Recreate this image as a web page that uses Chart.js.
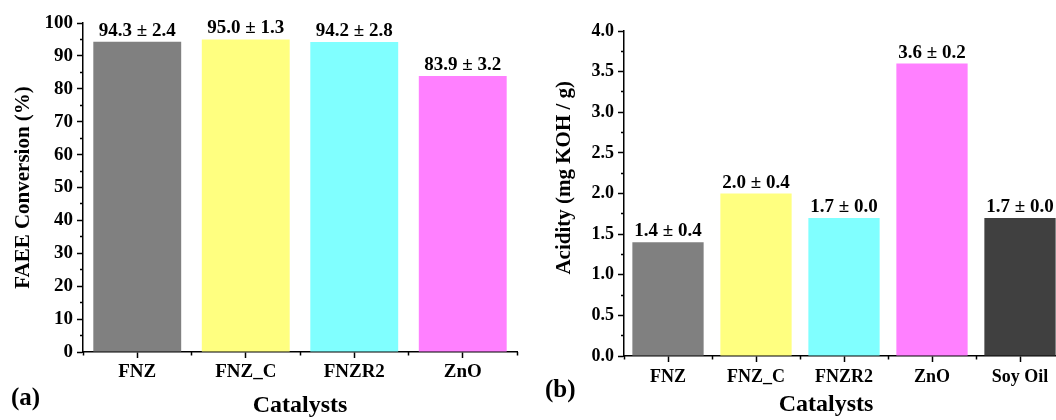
<!DOCTYPE html>
<html>
<head>
<meta charset="utf-8">
<script src="https://cdn.jsdelivr.net/npm/chart.js@4.4.1/dist/chart.umd.min.js"></script>
<style>
  html, body { margin: 0; padding: 0; width: 1056px; height: 420px; overflow: hidden; background: #fff; }
  canvas { position: absolute; top: 0; }
  #faee-chart { left: 0; }
  #acid-chart { left: 530px; }
</style>
</head>
<body>
<canvas id="faee-chart" width="530" height="420"></canvas>
<canvas id="acid-chart" width="545" height="420"></canvas>
<script>
// panel (a)
var catsA = ['FNZ', 'FNZ_C', 'FNZR2', 'ZnO'];
var faee = [94.3, 95.0, 94.2, 83.9];
var faeeErr = [2.4, 1.3, 2.8, 3.2];
var colorsA = ['#808080', '#ffff80', '#80ffff', '#ff80ff'];

// panel (b)
var catsB = ['FNZ', 'FNZ_C', 'FNZR2', 'ZnO', 'Soy Oil'];
var acidity = [1.4, 2.0, 1.7, 3.6, 1.7];
var acidityErr = [0.4, 0.4, 0.0, 0.2, 0.0];
var colorsB = ['#808080', '#ffff80', '#80ffff', '#ff80ff', '#404040'];

var SERIF = "'Liberation Serif', 'Times New Roman', serif";
Chart.defaults.font.family = SERIF;
Chart.defaults.font.weight = 'bold';
Chart.defaults.color = '#000';

// "value ± err" above each bar, plus the panel letter
var barLabels = {
  id: 'barLabels',
  afterDatasetsDraw: function(chart, args, opts) {
    var ctx = chart.ctx;
    var meta = chart.getDatasetMeta(0);
    ctx.save();
    ctx.fillStyle = '#000';
    ctx.textAlign = 'center';
    ctx.textBaseline = 'alphabetic';
    ctx.font = 'bold ' + opts.size + 'px ' + SERIF;
    meta.data.forEach(function(bar, i) {
      ctx.fillText(opts.values[i].toFixed(1) + ' \u00b1 ' + opts.errors[i].toFixed(1), bar.x, bar.y - 6);
    });
    ctx.textAlign = 'left';
    ctx.font = 'bold 25px ' + SERIF;
    ctx.fillText(opts.tag, opts.tagX, opts.tagY);
    ctx.restore();
  }
};

function makeChart(id, o) {
  var ctx = document.getElementById(id).getContext('2d');
  return new Chart(ctx, {
    type: 'bar',
    data: {
      labels: o.labels,
      datasets: [{
        data: o.values,
        backgroundColor: o.colors,
        borderWidth: 0,
        barPercentage: 0.81,
        categoryPercentage: 1.0
      }]
    },
    plugins: [barLabels],
    options: {
      responsive: false,
      animation: false,
      layout: { padding: o.padding },
      plugins: {
        legend: { display: false },
        tooltip: { enabled: false },
        barLabels: { values: o.values, errors: o.errors, size: 19, tag: o.tag, tagX: o.tagX, tagY: o.tagY }
      },
      scales: {
        x: {
          offset: true,
          grid: { offset: false, drawOnChartArea: false, tickLength: 6, tickWidth: 1.5, tickColor: '#000' },
          border: { display: true, color: '#000', width: 1.5 },
          ticks: { font: { size: o.xTickSize }, padding: o.xTickPad, maxRotation: 0, color: '#000' },
          title: { display: true, text: o.xTitle, font: { size: 24 }, padding: { top: 0, bottom: o.xTitlePad } },
          afterFit: function(s) { s.height = o.xHeight; }
        },
        x2: {
          type: 'category',
          position: 'bottom',
          weight: -1,
          offset: true,
          grid: { offset: true, drawOnChartArea: false, tickLength: 3.5, tickWidth: 1.5, tickColor: '#000' },
          border: { display: false },
          ticks: { display: false },
          afterFit: function(s) { s.height = 0; }
        },
        y: {
          min: o.min,
          max: o.max,
          grid: {
            drawOnChartArea: false, tickLength: 6, tickWidth: 1.5, tickColor: '#000',
            tickBorderDash: function(c) {
              return o.isMajor(c.tick.value) ? [] : [0, 3, 10];
            }
          },
          border: { display: true, color: '#000', width: 1.5 },
          ticks: {
            stepSize: o.step,
            maxTicksLimit: 100,
            autoSkip: false,
            padding: 4,
            font: { size: o.yTickSize },
            color: '#000',
            callback: function(v) { return o.isMajor(v) ? o.fmt(v) : ''; }
          },
          title: { display: true, text: o.yTitle, font: { size: 21 }, padding: { top: 4, bottom: 4 } },
          afterFit: function(s) { s.width = o.yWidth; }
        }
      }
    }
  });
}

makeChart('faee-chart', {
  labels: catsA, values: faee, errors: faeeErr, colors: colorsA,
  min: 0, max: 100, step: 5,
  isMajor: function(v) { return Math.abs(v % 10) < 1e-9; },
  fmt: function(v) { return String(v); },
  xTitle: 'Catalysts',
  yTitle: 'FAEE Conversion (%)',
  padding: { left: 7, right: 13, top: 23, bottom: 0 },
  yWidth: 76, xHeight: 68, xTickSize: 19, xTickPad: 3, xTitlePad: 0, yTickSize: 19,
  tag: '(a)', tagX: 11, tagY: 405
});

// titles in panel (b) sit off-centre in the original, padded with spaces
makeChart('acid-chart', {
  labels: catsB, values: acidity, errors: acidityErr, colors: colorsB,
  min: 0, max: 4, step: 0.25,
  isMajor: function(v) { return Math.abs(v * 2 - Math.round(v * 2)) < 1e-9; },
  fmt: function(v) { return v.toFixed(1); },
  xTitle: 'Catalysts      ',
  yTitle: '      Acidity (mg KOH / g)',
  padding: { left: 18, right: 11, top: 31, bottom: 0 },
  yWidth: 76, xHeight: 64, xTickSize: 18, xTickPad: 5, xTitlePad: 1, yTickSize: 18,
  tag: '(b)', tagX: 15, tagY: 397
});
</script>
</body>
</html>
